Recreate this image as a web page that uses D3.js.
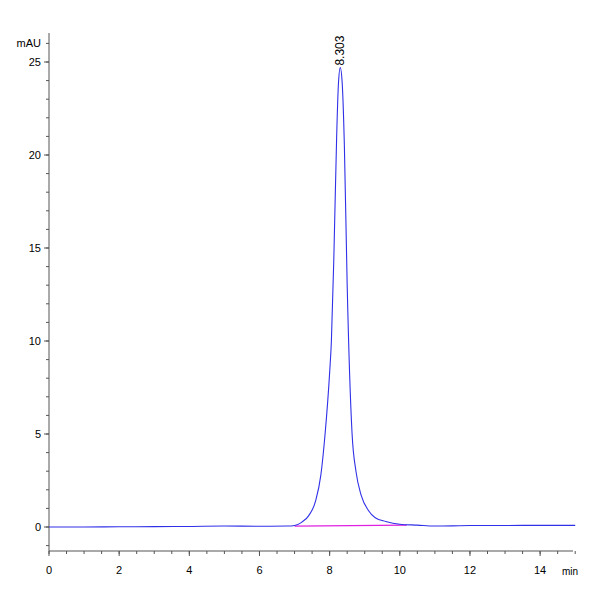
<!DOCTYPE html><html><head><script src="https://cdn.jsdelivr.net/npm/d3@7"></script>
<style>body{margin:0;background:#fff}text{font-family:"Liberation Sans",Arial,sans-serif}</style></head><body>
<svg id="c" width="600" height="600"></svg>
<script>
const times=[0,1,2,3,4,5,6,6.8,7.0,7.2,7.4,7.6,7.75,7.87,8.0,8.05,8.12,8.2,8.25,8.303,8.36,8.42,8.5,8.64,8.75,8.9,9.1,9.3,9.6,10,10.5,11,11.5,12,13,14,15];
const signal=[0,0,0.01,0.02,0.03,0.05,0.04,0.05,0.08,0.25,0.6,1.4,2.8,5,8.3,10,14.5,21,23.8,24.7,23.8,20.5,13,5,3,1.7,0.9,0.5,0.3,0.15,0.1,0.05,0.06,0.08,0.08,0.09,0.09];
const baseT=[7.0,10.2], baseV=[0.05,0.1];
const peakLabel="8.303", peakT=8.303, peakV=24.7;
const xTicks=[0,2,4,6,8,10,12,14], yTicks=[0,5,10,15,20,25];
const svg=d3.select("#c");
const x=d3.scaleLinear().domain([0,15]).range([49,575.2]);
const y=d3.scaleLinear().domain([0,25]).range([527,62]);
const g=svg.append("g");
g.append("line").attr("x1",49).attr("x2",49).attr("y1",33).attr("y2",551).attr("stroke","#555");
g.append("line").attr("x1",49).attr("x2",573).attr("y1",551).attr("y2",551).attr("stroke","#555");
d3.range(-1,27).forEach(v=>{if(y(v)<33)return;g.append("line").attr("x1",46).attr("x2",49).attr("y1",y(v)).attr("y2",y(v)).attr("stroke","#555");});
yTicks.forEach(v=>{g.append("line").attr("x1",44).attr("x2",49).attr("y1",y(v)).attr("y2",y(v)).attr("stroke","#555");
 g.append("text").attr("x",41).attr("y",y(v)+4).attr("text-anchor","end").attr("font-size",11).text(v);});
g.append("text").attr("x",41).attr("y",47).attr("text-anchor","end").attr("font-size",11).text("mAU");
d3.range(0,15.01,0.5).forEach(v=>{g.append("line").attr("x1",x(v)).attr("x2",x(v)).attr("y1",551).attr("y2",554).attr("stroke","#555");});
xTicks.forEach(v=>{g.append("line").attr("x1",x(v)).attr("x2",x(v)).attr("y1",551).attr("y2",556).attr("stroke","#555");
 g.append("text").attr("x",x(v)).attr("y",574).attr("text-anchor","middle").attr("font-size",11).text(v);});
g.append("text").attr("x",562).attr("y",575).attr("font-size",10).text("min");
svg.append("line").attr("x1",x(baseT[0])).attr("x2",x(baseT[1])).attr("y1",y(baseV[0])).attr("y2",y(baseV[1])).attr("stroke","#e020e0").attr("stroke-width",1.2);
const pts=times.map((t,i)=>[t,signal[i]]);
svg.append("path").datum(pts).attr("fill","none").attr("stroke","#3030e8").attr("stroke-width",1.1)
 .attr("d",d3.line().x(d=>x(d[0])).y(d=>y(d[1])).curve(d3.curveMonotoneX));
svg.append("text").attr("transform",`translate(${x(peakT)+4},${y(peakV)-2}) rotate(-90)`).attr("font-size",12).text(peakLabel);
</script></body></html>
